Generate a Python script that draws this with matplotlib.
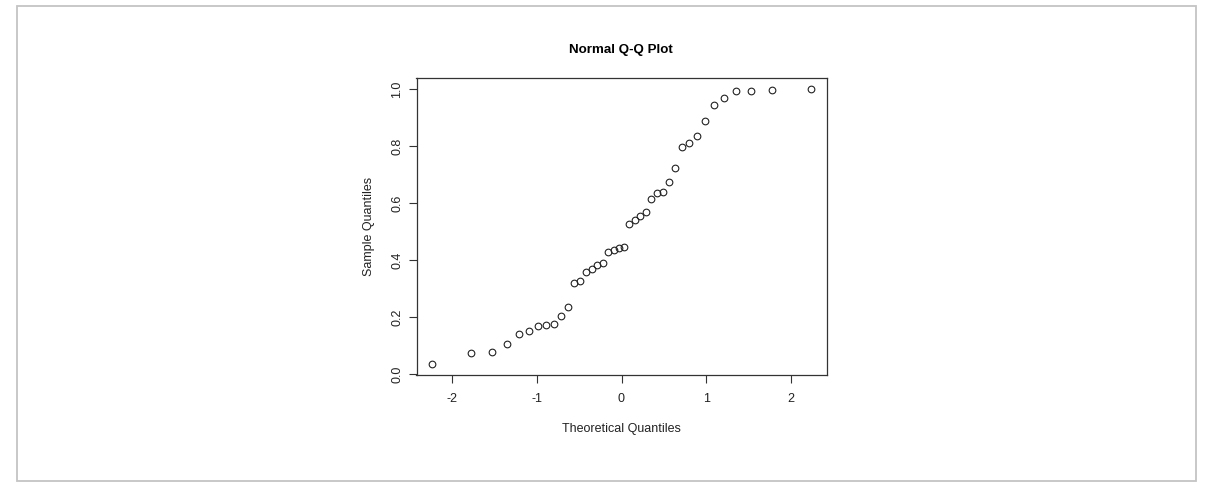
import matplotlib
matplotlib.use('Agg')
import matplotlib.pyplot as plt
from matplotlib.patches import Rectangle

# theoretical normal quantiles (40 points)
theoretical = [-2.2414, -1.7805, -1.5341, -1.3557, -1.2133, -1.0919, -0.9842, -0.8871,
               -0.7978, -0.7143, -0.6356, -0.5607, -0.4888, -0.4193, -0.3518, -0.2858,
               -0.2211, -0.1573, -0.0942, -0.0313, 0.0313, 0.0942, 0.1573, 0.2211,
               0.2858, 0.3518, 0.4193, 0.4888, 0.5607, 0.6356, 0.7143, 0.7978,
               0.8871, 0.9842, 1.0919, 1.2133, 1.3557, 1.5341, 1.7805, 2.2414]
# sample quantiles
sample = [0.034, 0.075, 0.077, 0.105, 0.139, 0.150, 0.168, 0.172, 0.176, 0.204,
          0.234, 0.321, 0.326, 0.357, 0.369, 0.384, 0.388, 0.428, 0.435, 0.442,
          0.444, 0.527, 0.540, 0.555, 0.567, 0.613, 0.634, 0.638, 0.673, 0.722,
          0.795, 0.809, 0.835, 0.888, 0.944, 0.969, 0.994, 0.994, 0.995, 0.999]

x_ticks = [-2, -1, 0, 1, 2]
y_ticks = [0.0, 0.2, 0.4, 0.6, 0.8, 1.0]

plt.rcParams['font.family'] = ['Liberation Sans', 'DejaVu Sans']

W, H = 1212, 487
fig = plt.figure(figsize=(W / 100, H / 100), dpi=100)

# light grey frame round the whole picture
fig.patches.append(Rectangle((17 / W, 1 - 481 / H), (1196 - 17) / W, (481 - 6) / H,
                             transform=fig.transFigure, fill=False,
                             edgecolor='#c4c4c4', linewidth=1.3))

ax = fig.add_axes([416.5 / W, 1 - 375.3 / H, (826.5 - 416.5) / W, (375.3 - 78.3) / H])
ax.plot(theoretical, sample, linestyle='none', marker='o', markersize=4.8,
        markerfacecolor='none', markeredgecolor='#222222', markeredgewidth=0.8)

# R style 4% padding
def padded(v):
    lo, hi = min(v), max(v)
    d = (hi - lo) * 0.04
    return lo - d, hi + d

ax.set_xlim(*padded(theoretical))
ax.set_ylim(*padded(sample))

ax.set_xticks(x_ticks)
ax.set_xticklabels([str(t) for t in x_ticks])
ax.set_yticks(y_ticks)
ax.set_yticklabels(['{:.1f}'.format(t) for t in y_ticks], rotation=90, va='center')
ax.tick_params(direction='out', length=5.5, width=0.8, labelsize=9, color='#333333',
               labelcolor='#222222')
ax.tick_params(axis='x', pad=7.5)
ax.tick_params(axis='y', pad=4)
for s in ax.spines.values():
    s.set_linewidth(0.9)
    s.set_color('#333333')

ax.set_xlabel('Theoretical Quantiles', fontsize=9, labelpad=13, color='#222222')
ax.set_ylabel('Sample Quantiles', fontsize=9, labelpad=12, color='#222222')
fig.text(621 / W, 1 - 50 / H, 'Normal Q-Q Plot', ha='center', va='center',
         fontsize=9.6, fontweight='bold')

fig.savefig('out.png', dpi=100)
